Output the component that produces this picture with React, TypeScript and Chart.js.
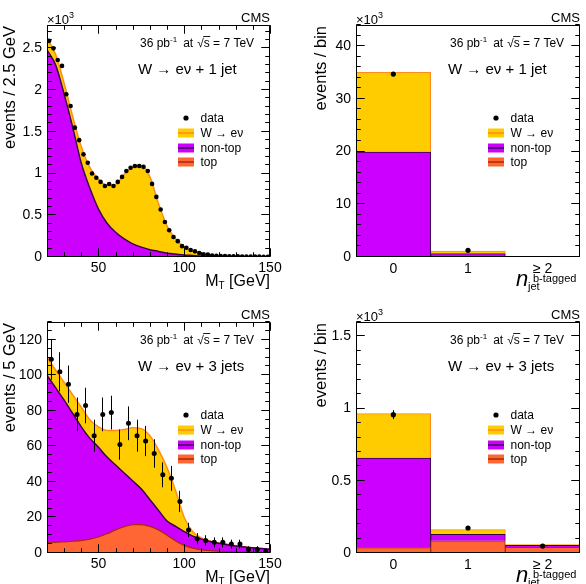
import { useEffect, useRef } from "react";
import { Chart, registerables } from "chart.js";

Chart.register(...registerables);

const FONT = '"Liberation Sans", Arial, Helvetica, sans-serif';
const CW = 293;
const CH = 292;

const W_FILL = "#ffcc00";
const W_LINE = "#ff8c1a";
const NT_FILL = "#cc00ff";
const NT_LINE = "#3a0050";
const TOP_FILL = "#ff6633";
const TOP_LINE = "#a82a0a";

// ---- W -> e nu + 1 jet, transverse mass, 2.5 GeV bins ----
const mt1BinCenters = [
  21.25, 23.75, 26.25, 28.75, 31.25, 33.75, 36.25, 38.75, 41.25, 43.75, 46.25, 48.75, 51.25,
  53.75, 56.25, 58.75, 61.25, 63.75, 66.25, 68.75, 71.25, 73.75, 76.25, 78.75, 81.25, 83.75,
  86.25, 88.75, 91.25, 93.75, 96.25, 98.75, 101.25, 103.75, 106.25, 108.75, 111.25, 113.75,
  116.25, 118.75, 121.25, 123.75, 126.25, 128.75, 131.25, 133.75, 136.25, 138.75, 141.25,
  143.75, 146.25, 148.75,
];
const mt1Data = [
  2590, 2500, 2360, 2290, 1950, 1810, 1550, 1400, 1230, 1130, 1000, 950, 900, 850, 875, 850,
  900, 960, 1030, 1070, 1090, 1090, 1080, 1030, 876, 720, 570, 420, 320, 240, 190, 130, 110,
  84, 68, 48, 32, 30, 16, 14, 12, 10, 9, 8, 7, 6, 5, 5, 4, 4, 3, 3,
];

// simulated shapes sampled every 5 GeV
const mtCurveX = [
  20, 25, 30, 35, 40, 45, 50, 55, 60, 65, 70, 75, 80, 85, 90, 95, 100, 105, 110, 115, 120, 125,
  130, 135, 140, 145, 150,
];
const mt1Top = [2, 2, 2, 2, 3, 3, 4, 5, 6, 7, 8, 8, 8, 7, 6, 5, 4, 3, 2, 2, 1, 1, 1, 1, 1, 1, 1];
const mt1NonTop = [
  2480, 2300, 1950, 1550, 1120, 820, 570, 400, 290, 210, 150, 110, 80, 60, 40, 30, 20, 15, 10, 8,
  6, 5, 4, 3, 3, 2, 2,
];
const mt1W = [
  138, 128, 128, 128, 197, 247, 356, 455, 574, 773, 922, 977, 872, 573, 324, 180, 96, 52, 28, 15,
  8, 4, 3, 2, 1, 1, 0,
];

// ---- W -> e nu + 3 jets, transverse mass, 5 GeV bins ----
const mt3BinCenters = [
  22.5, 27.5, 32.5, 37.5, 42.5, 47.5, 52.5, 57.5, 62.5, 67.5, 72.5, 77.5, 82.5, 87.5, 92.5, 97.5,
  102.5, 107.5, 112.5, 117.5, 122.5, 127.5, 132.5, 137.5, 142.5, 147.5,
];
const mt3Data = [
  109, 102, 95, 78, 83, 66, 78, 79, 61, 73, 66, 63, 56, 44, 42, 29, 13, 8, 7, 6, 6, 5, 5, 2, 2, 1,
];
const mt3Err = [
  11.5, 11, 10.5, 9.5, 10, 9, 9.5, 9.5, 8.5, 9.5, 9, 8.5, 8, 7, 7, 6, 4, 3.2, 3, 2.8, 2.8, 2.5,
  2.5, 1.8, 1.8, 1.2,
];
const mt3Top = [
  5.8, 6, 6.3, 6.6, 7, 7.8, 9, 10.8, 13, 14.8, 15.9, 16, 15, 13, 10, 6.8, 4.3, 2.7, 1.8, 1.3, 1.0,
  0.8, 0.7, 0.6, 0.5, 0.4, 0.35,
];
const mt3NonTop = [
  94.2, 87, 79.7, 71.9, 64, 56.7, 50.5, 43.2, 36.5, 30.2, 24.6, 20, 15, 11, 8, 8.2, 7.7, 6.8, 6.0,
  5.2, 4.5, 3.9, 3.3, 2.8, 2.4, 2.1, 1.75,
];
const mt3W = [
  10, 10, 10, 10.5, 11, 10.5, 11.5, 15, 19.5, 24.5, 30, 34, 36, 34, 30, 20, 8, 2.5, 0.7, 0.3, 0.2,
  0.2, 0.1, 0.1, 0.1, 0, 0,
];

// ---- b-tagged jet multiplicity ----
const nbLabels = ["0", "1", "\u2265 2"];
// the >= 2 bin of the 1-jet sample has no marker inside the frame
const nb1Data: (number | null)[] = [34700, 1270, null];
const nb1Err = [186, 36, 0];
const nb1Top = [40, 50, 20];
const nb1NonTop = [19860, 600, 20];
const nb1W = [15100, 450, 10];

const nb3Data: (number | null)[] = [958, 173, 48];
const nb3Err = [31, 13, 7];
const nb3Top = [37, 85, 40];
const nb3NonTop = [621, 44, 13];
const nb3W = [307, 33, 5];

// ---- axis ticks ----
const mtTickValues = [50, 100, 150];
const mtTickLabels = ["50", "100", "150"];
const y1TickValues = [0, 500, 1000, 1500, 2000, 2500];
const y1TickLabels = ["0", "0.5", "1", "1.5", "2", "2.5"];
const y2TickValues = [0, 10000, 20000, 30000, 40000];
const y2TickLabels = ["0", "10", "20", "30", "40"];
const y3TickValues = [0, 20, 40, 60, 80, 100, 120];
const y3TickLabels = ["0", "20", "40", "60", "80", "100", "120"];
const y4TickValues = [0, 500, 1000, 1500];
const y4TickLabels = ["0", "0.5", "1", "1.5"];

type Panel = {
  id: string;
  kind: "mt" | "nb";
  left: number;
  top: number;
  area: { left: number; right: number; top: number; bottom: number };
  yMax: number;
  yTickValues: number[];
  yTickLabels: string[];
  yMinor: number;
  yMajor: number;
  yTitle: string;
  yTitleX: number;
  channel: string;
  showExp: boolean;
  dotRadius: number;
  xs?: number[];
  data: (number | null)[];
  err?: number[];
  topC: number[];
  nonTop: number[];
  w: number[];
};

const panels: Panel[] = [
  {
    id: "mt1", kind: "mt", left: 0, top: 0,
    area: { left: 47, right: 270, top: 25, bottom: 257 },
    yMax: 2780, yTickValues: y1TickValues, yTickLabels: y1TickLabels, yMinor: 100, yMajor: 500,
    yTitle: "events / 2.5 GeV", yTitleX: 15, channel: "W \u2192 e\u03bd + 1 jet", showExp: true,
    dotRadius: 2.3, xs: mt1BinCenters, data: mt1Data, topC: mt1Top, nonTop: mt1NonTop, w: mt1W,
  },
  {
    id: "nb1", kind: "nb", left: 293, top: 0,
    area: { left: 63, right: 287, top: 25, bottom: 257 },
    yMax: 44000, yTickValues: y2TickValues, yTickLabels: y2TickLabels, yMinor: 2000, yMajor: 10000,
    yTitle: "events / bin", yTitleX: 33, channel: "W \u2192 e\u03bd + 1 jet", showExp: true,
    dotRadius: 2.6, data: nb1Data, err: nb1Err, topC: nb1Top, nonTop: nb1NonTop, w: nb1W,
  },
  {
    id: "mt3", kind: "mt", left: 0, top: 296,
    area: { left: 47, right: 270, top: 26, bottom: 257 },
    yMax: 130, yTickValues: y3TickValues, yTickLabels: y3TickLabels, yMinor: 5, yMajor: 20,
    yTitle: "events / 5 GeV", yTitleX: 15, channel: "W \u2192 e\u03bd + 3 jets", showExp: false,
    dotRadius: 2.5, xs: mt3BinCenters, data: mt3Data, err: mt3Err, topC: mt3Top, nonTop: mt3NonTop, w: mt3W,
  },
  {
    id: "nb3", kind: "nb", left: 293, top: 296,
    area: { left: 63, right: 287, top: 26, bottom: 257 },
    yMax: 1600, yTickValues: y4TickValues, yTickLabels: y4TickLabels, yMinor: 100, yMajor: 500,
    yTitle: "events / bin", yTitleX: 33, channel: "W \u2192 e\u03bd + 3 jets", showExp: true,
    dotRadius: 2.6, data: nb3Data, err: nb3Err, topC: nb3Top, nonTop: nb3NonTop, w: nb3W,
  },
];

type Run = { t: string; size: number; dy?: number; italic?: boolean };

function drawRuns(ctx: CanvasRenderingContext2D, runs: Run[], x: number, y: number, alignRight: boolean) {
  const font = (r: Run) => `${r.italic ? "italic " : ""}${r.size}px ${FONT}`;
  let total = 0;
  for (const r of runs) {
    ctx.font = font(r);
    total += ctx.measureText(r.t).width;
  }
  let cx = alignRight ? x - total : x;
  ctx.textAlign = "left";
  for (const r of runs) {
    ctx.font = font(r);
    ctx.fillText(r.t, cx, y + (r.dy || 0));
    cx += ctx.measureText(r.t).width;
  }
}

function drawLumi(ctx: CanvasRenderingContext2D, x: number, y: number) {
  ctx.textAlign = "left";
  let cx = x;
  const put = (t: string, size: number, dy = 0) => {
    ctx.font = `${size}px ${FONT}`;
    ctx.fillText(t, cx, y + dy);
    const w = ctx.measureText(t).width;
    cx += w;
    return w;
  };
  put("36 pb", 12);
  put("-1", 8, -5);
  cx += 6;
  put("at", 12);
  cx += 4;
  put("\u221a", 12);
  const sX = cx;
  const sw = put("s", 12);
  // bar over the radicand
  ctx.fillRect(sX - 0.5, y - 11, sw + 1, 0.9);
  put(" = 7 TeV", 12);
}

// frame of the plotting region with inward ticks on all four sides
function drawFrame(chart: any, p: Panel) {
  const ctx: CanvasRenderingContext2D = chart.ctx;
  const area = chart.chartArea;
  const ys = chart.scales.y;
  const xs = chart.scales.x;
  const x0 = Math.round(area.left) + 0.5;
  const x1 = Math.round(area.right) - 0.5;
  const y0 = Math.round(area.top) + 0.5;
  const y1 = Math.round(area.bottom) - 0.5;
  ctx.save();
  ctx.setLineDash([]);
  ctx.globalAlpha = 1;
  ctx.globalCompositeOperation = "source-over";
  ctx.strokeStyle = "#000000";
  ctx.lineWidth = 1;
  ctx.beginPath();
  ctx.moveTo(x0, y0);
  ctx.lineTo(x1, y0);
  ctx.lineTo(x1, y1);
  ctx.lineTo(x0, y1);
  ctx.closePath();

  const k0 = Math.ceil(p.yTickValues[0] / p.yMinor - 1e-9);
  const k1 = Math.floor(p.yMax / p.yMinor + 1e-9);
  for (let k = k0; k <= k1; k++) {
    const v = k * p.yMinor;
    const q = v / p.yMajor;
    const len = Math.abs(q - Math.round(q)) < 1e-6 ? 8 : 4;
    const py = Math.round(ys.getPixelForValue(v)) - 0.5;
    ctx.moveTo(x0, py);
    ctx.lineTo(x0 + len, py);
    ctx.moveTo(x1, py);
    ctx.lineTo(x1 - len, py);
  }
  if (p.kind === "mt") {
    for (let v = 20; v <= 150; v += 10) {
      const len = v % 50 === 0 ? 8 : 4;
      const px = Math.round(xs.getPixelForValue(v)) + 0.5;
      ctx.moveTo(px, y1);
      ctx.lineTo(px, y1 - len);
      ctx.moveTo(px, y0);
      ctx.lineTo(px, y0 + len);
    }
  }
  ctx.stroke();
  ctx.restore();
}

function drawDecor(chart: any, p: Panel) {
  const ctx: CanvasRenderingContext2D = chart.ctx;
  const area = chart.chartArea;
  const L = area.left;
  const R = area.right;
  const T = area.top;

  drawFrame(chart, p);

  ctx.save();
  ctx.fillStyle = "#000";
  ctx.textBaseline = "alphabetic";

  // experiment label
  ctx.font = `13px ${FONT}`;
  ctx.textAlign = "right";
  ctx.fillText("CMS", R, T - 3.5);

  if (p.showExp) {
    drawRuns(ctx, [{ t: "\u00d710", size: 13 }, { t: "3", size: 9, dy: -5.5 }], L, T - 1.5, false);
  }

  drawLumi(ctx, R - 130, T + 22);

  ctx.font = `15px ${FONT}`;
  ctx.textAlign = "left";
  ctx.fillText(p.channel, R - 132, T + 49);

  // legend
  ctx.beginPath();
  ctx.arc(R - 84, T + 93, 2.6, 0, Math.PI * 2);
  ctx.fill();
  ctx.font = `12px ${FONT}`;
  ctx.fillText("data", R - 69.5, T + 97);
  const rows = [
    { label: "W \u2192 e\u03bd", fill: W_FILL, line: W_LINE, dy: 108 },
    { label: "non-top", fill: NT_FILL, line: NT_LINE, dy: 123 },
    { label: "top", fill: TOP_FILL, line: TOP_LINE, dy: 137 },
  ];
  for (const r of rows) {
    ctx.fillStyle = r.fill;
    ctx.fillRect(R - 92, T + r.dy - 4.5, 16, 9);
    ctx.fillStyle = r.line;
    ctx.fillRect(R - 92, T + r.dy - 0.75, 16, 1.5);
    ctx.fillStyle = "#000";
    ctx.fillText(r.label, R - 69.5, T + r.dy + 4);
  }

  // y title
  ctx.save();
  ctx.translate(p.yTitleX, T + 1);
  ctx.rotate(-Math.PI / 2);
  ctx.textAlign = "right";
  ctx.font = `16.5px ${FONT}`;
  ctx.fillText(p.yTitle, 0, 0);
  ctx.restore();

  // x title
  if (p.kind === "mt") {
    drawRuns(ctx, [{ t: "M", size: 16 }, { t: "T", size: 10, dy: 3 }, { t: " [GeV]", size: 16 }], R, 286, true);
  } else {
    ctx.textAlign = "left";
    ctx.font = `italic 22px ${FONT}`;
    ctx.fillText("n", R - 64, 286);
    ctx.font = `11px ${FONT}`;
    ctx.fillText("jet", R - 52, 289.5);
    ctx.fillText("b-tagged", R - 47, 282);
  }
  ctx.restore();
}

function drawErrors(chart: any, p: Panel) {
  if (!p.err) return;
  const ctx: CanvasRenderingContext2D = chart.ctx;
  const a = chart.chartArea;
  const ys = chart.scales.y;
  const meta = chart.getDatasetMeta(0);
  ctx.save();
  ctx.beginPath();
  ctx.rect(a.left, a.top, a.right - a.left, a.bottom - a.top);
  ctx.clip();
  ctx.strokeStyle = "#000";
  ctx.lineWidth = 1;
  ctx.beginPath();
  p.data.forEach((v, i) => {
    const el = meta.data[i];
    if (!el || v === null || !p.err![i]) return;
    const x = Math.round(el.x - 0.5) + 0.5;
    ctx.moveTo(x, ys.getPixelForValue(v + p.err![i]));
    ctx.lineTo(x, ys.getPixelForValue(Math.max(0, v - p.err![i])));
  });
  ctx.stroke();
  ctx.restore();
}

function buildConfig(p: Panel): any {
  const tickFont = { family: FONT, size: 14 };
  const yScale: any = {
    type: "linear",
    min: 0,
    max: p.yMax,
    stacked: p.kind === "nb",
    grid: { display: false, drawTicks: false },
    border: { display: false },
    ticks: {
      font: tickFont,
      color: "#000",
      padding: 5,
      callback: (_v: any, i: number) => p.yTickLabels[i],
    },
    afterBuildTicks: (s: any) => {
      s.ticks = p.yTickValues.map((v) => ({ value: v }));
    },
    afterFit: (s: any) => {
      s.width = p.area.left;
    },
  };
  const xFit = (s: any) => {
    s.height = CH - p.area.bottom;
  };

  const plugin = {
    id: "decor" + p.id,
    afterDatasetsDraw: (chart: any) => {
      drawErrors(chart, p);
      drawFrame(chart, p);
    },
    afterDraw: (chart: any) => drawDecor(chart, p),
  };

  const common: any = {
    responsive: false,
    animation: false,
    devicePixelRatio: 1,
    events: [],
    layout: { padding: { left: 0, right: CW - p.area.right, top: p.area.top, bottom: 0 } },
    plugins: { legend: { display: false }, tooltip: { enabled: false } },
  };

  const dataPoints: any = {
    type: "line",
    label: "data",
    showLine: false,
    pointRadius: p.dotRadius,
    pointHoverRadius: p.dotRadius,
    pointBackgroundColor: "#000",
    pointBorderWidth: 0,
    order: 0,
  };

  if (p.kind === "mt") {
    const cumTop = p.topC;
    const cumNT = p.topC.map((v, i) => v + p.nonTop[i]);
    const cumW = cumNT.map((v, i) => v + p.w[i]);
    const curve = (label: string, vals: number[], fill: string, line: string, lw: number) => ({
      type: "line",
      label,
      data: mtCurveX.map((x, i) => ({ x, y: vals[i] })),
      backgroundColor: fill,
      borderColor: line,
      borderWidth: lw,
      fill: "origin",
      pointRadius: 0,
      cubicInterpolationMode: "monotone",
      order: 1,
    });
    return {
      type: "line",
      data: {
        datasets: [
          { ...dataPoints, data: p.xs!.map((x, i) => ({ x, y: p.data[i] })) },
          curve("top", cumTop, TOP_FILL, TOP_LINE, 1.2),
          curve("non-top", cumNT, NT_FILL, NT_LINE, 1.5),
          curve("W \u2192 e\u03bd", cumW, W_FILL, W_LINE, 1.5),
        ],
      },
      options: {
        ...common,
        scales: {
          x: {
            type: "linear",
            min: 20,
            max: 150,
            grid: { display: false, drawTicks: false },
            border: { display: false },
            ticks: {
              font: tickFont,
              color: "#000",
              padding: 3,
              maxRotation: 0,
              autoSkip: false,
              callback: (_v: any, i: number) => mtTickLabels[i],
            },
            afterBuildTicks: (s: any) => {
              s.ticks = mtTickValues.map((v) => ({ value: v }));
            },
            afterFit: xFit,
          },
          y: yScale,
        },
      },
      plugins: [plugin],
    };
  }

  const bar = (label: string, vals: number[], fill: string, line: string) => ({
    type: "bar",
    label,
    data: vals,
    backgroundColor: fill,
    borderColor: line,
    borderWidth: 1,
    barPercentage: 1,
    categoryPercentage: 1,
    stack: "mc",
    order: 1,
  });
  return {
    type: "bar",
    data: {
      labels: nbLabels,
      datasets: [
        { ...dataPoints, data: p.data, stack: "data" },
        bar("top", p.topC, TOP_FILL, TOP_LINE),
        bar("non-top", p.nonTop, NT_FILL, NT_LINE),
        bar("W \u2192 e\u03bd", p.w, W_FILL, W_LINE),
      ],
    },
    options: {
      ...common,
      scales: {
        x: {
          type: "category",
          stacked: true,
          offset: true,
          grid: { display: false, drawTicks: false },
          border: { display: false },
          ticks: { font: tickFont, color: "#000", padding: 4, maxRotation: 0, autoSkip: false },
          afterFit: xFit,
        },
        y: yScale,
      },
    },
    plugins: [plugin],
  };
}

function PanelChart({ p }: { p: Panel }) {
  const ref = useRef<HTMLCanvasElement>(null);
  useEffect(() => {
    const chart = new Chart(ref.current as HTMLCanvasElement, buildConfig(p));
    return () => chart.destroy();
  }, [p]);
  return (
    <canvas
      ref={ref}
      width={CW}
      height={CH}
      style={{ position: "absolute", left: p.left, top: p.top, width: CW, height: CH }}
    />
  );
}

export default function App() {
  return (
    <div
      style={{
        position: "absolute",
        left: 0,
        top: 0,
        width: 586,
        height: 584,
        overflow: "hidden",
        background: "#fff",
      }}
    >
      {panels.map((p) => (
        <PanelChart key={p.id} p={p} />
      ))}
    </div>
  );
}
